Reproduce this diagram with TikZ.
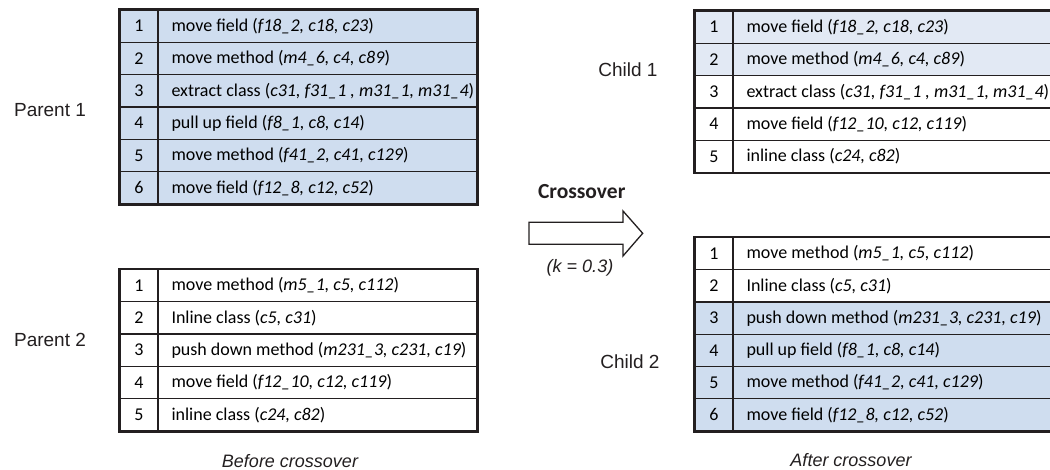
\documentclass[tikz,border=0pt]{standalone}
\usepackage{fontspec}
\usepackage{tikz}
\setmainfont{Carlito}
\newfontfamily\arialfont{Liberation Sans}
\definecolor{cellblue}{RGB}{207,221,239}
\definecolor{paleblue}{RGB}{226,233,244}
\definecolor{linegray}{RGB}{35,31,32}
\newcommand{\rowtext}[1]{\makebox[292pt][l]{#1}}

\begin{document}
\begin{tikzpicture}[x=1pt,y=-1pt,
	numcell/.style={draw=linegray, line width=1.3pt, minimum width=38pt, minimum height=32.3pt, inner sep=0pt, font=\fontsize{18}{21}\selectfont},
	txtcell/.style={numcell, minimum width=319pt, inner xsep=13.5pt},
	blue/.style={fill=cellblue},
	pale/.style={fill=paleblue},
	frame/.style={draw=linegray, line width=2pt},
	sidelabel/.style={font=\arialfont\fontsize{19}{22}\selectfont, text=linegray},
	caption/.style={font=\arialfont\itshape\fontsize{18}{21}\selectfont, text=linegray}]

	\useasboundingbox (0,0) rectangle (1050,470);

	% Parent 1
	\node[sidelabel] (lp1) at (50,110) {Parent 1};
	\node[numcell,blue] (p1n1) at (139,26.2)  {1};
	\node[txtcell,blue] (p1t1) at (317.5,26.2)  {\rowtext{move field (\textit{f18\_2, c18, c23})}};
	\node[numcell,blue] (p1n2) at (139,58.5)  {2};
	\node[txtcell,blue] (p1t2) at (317.5,58.5)  {\rowtext{move method (\textit{m4\_6, c4, c89})}};
	\node[numcell,blue] (p1n3) at (139,90.8)  {3};
	\node[txtcell,blue] (p1t3) at (317.5,90.8)  {\rowtext{extract class (\textit{c31, f31\_1 , m31\_1, m31\_4})}};
	\node[numcell,blue] (p1n4) at (139,123.2)  {4};
	\node[txtcell,blue] (p1t4) at (317.5,123.2)  {\rowtext{pull up field (\textit{f8\_1, c8, c14})}};
	\node[numcell,blue] (p1n5) at (139,155.5)  {5};
	\node[txtcell,blue] (p1t5) at (317.5,155.5)  {\rowtext{move method (\textit{f41\_2, c41, c129})}};
	\node[numcell,blue] (p1n6) at (139,187.8)  {6};
	\node[txtcell,blue] (p1t6) at (317.5,187.8)  {\rowtext{move field (\textit{f12\_8, c12, c52})}};
	\draw[frame] (p1n1.north west) rectangle (p1t6.south east);

	% Parent 2
	\node[sidelabel] (lp2) at (50,340) {Parent 2};
	\node[numcell] (p2n1) at (139,285.5)  {1};
	\node[txtcell] (p2t1) at (317.5,285.5)  {\rowtext{move method (\textit{m5\_1, c5, c112})}};
	\node[numcell] (p2n2) at (139,317.8)  {2};
	\node[txtcell] (p2t2) at (317.5,317.8)  {\rowtext{Inline class (\textit{c5, c31})}};
	\node[numcell] (p2n3) at (139,350.1)  {3};
	\node[txtcell] (p2t3) at (317.5,350.1)  {\rowtext{push down method (\textit{m231\_3, c231, c19})}};
	\node[numcell] (p2n4) at (139,382.5)  {4};
	\node[txtcell] (p2t4) at (317.5,382.5)  {\rowtext{move field (\textit{f12\_10, c12, c119})}};
	\node[numcell] (p2n5) at (139,414.8)  {5};
	\node[txtcell] (p2t5) at (317.5,414.8)  {\rowtext{inline class (\textit{c24, c82})}};
	\draw[frame] (p2n1.north west) rectangle (p2t5.south east);
	\node[caption] (before) at (290,461.5) {Before crossover};

	% Crossover arrow
	\node[font=\bfseries\fontsize{21.5}{24}\selectfont, text=linegray] (xo) at (581.7,191.5) {Crossover};
	\draw[draw=linegray, line width=1.3pt, fill=white] (529,222.3) -- (623,222.3) -- (623,211) -- (642.7,233.3) -- (623,256) -- (623,244.3) -- (529,244.3) -- cycle;
	\node[caption] (kval) at (580,268.3) {(k = 0.3)};

	% Child 1
	\node[sidelabel] (lc1) at (628,70) {Child 1};
	\node[numcell,pale] (c1n1) at (714,27.2)  {1};
	\node[txtcell,pale] (c1t1) at (892.5,27.2)  {\rowtext{move field (\textit{f18\_2, c18, c23})}};
	\node[numcell,pale] (c1n2) at (714,59.5)  {2};
	\node[txtcell,pale] (c1t2) at (892.5,59.5)  {\rowtext{move method (\textit{m4\_6, c4, c89})}};
	\node[numcell] (c1n3) at (714,91.8)  {3};
	\node[txtcell] (c1t3) at (892.5,91.8)  {\rowtext{extract class (\textit{c31, f31\_1 , m31\_1, m31\_4})}};
	\node[numcell] (c1n4) at (714,124.2)  {4};
	\node[txtcell] (c1t4) at (892.5,124.2)  {\rowtext{move field (\textit{f12\_10, c12, c119})}};
	\node[numcell] (c1n5) at (714,156.5)  {5};
	\node[txtcell] (c1t5) at (892.5,156.5)  {\rowtext{inline class (\textit{c24, c82})}};
	\draw[frame] (c1n1.north west) rectangle (c1t5.south east);

	% Child 2
	\node[sidelabel] (lc2) at (630,362) {Child 2};
	\node[numcell] (c2n1) at (714,253.6)  {1};
	\node[txtcell] (c2t1) at (892.5,253.6)  {\rowtext{move method (\textit{m5\_1, c5, c112})}};
	\node[numcell] (c2n2) at (714,285.9)  {2};
	\node[txtcell] (c2t2) at (892.5,285.9)  {\rowtext{Inline class (\textit{c5, c31})}};
	\node[numcell,blue] (c2n3) at (714,318.1)  {3};
	\node[txtcell,blue] (c2t3) at (892.5,318.1)  {\rowtext{push down method (\textit{m231\_3, c231, c19})}};
	\node[numcell,blue] (c2n4) at (714,350.4)  {4};
	\node[txtcell,blue] (c2t4) at (892.5,350.4)  {\rowtext{pull up field (\textit{f8\_1, c8, c14})}};
	\node[numcell,blue] (c2n5) at (714,382.6)  {5};
	\node[txtcell,blue] (c2t5) at (892.5,382.6)  {\rowtext{move method (\textit{f41\_2, c41, c129})}};
	\node[numcell,blue] (c2n6) at (714,414.9)  {6};
	\node[txtcell,blue] (c2t6) at (892.5,414.9)  {\rowtext{move field (\textit{f12\_8, c12, c52})}};
	\draw[frame] (c2n1.north west) rectangle (c2t6.south east);
	\node[caption] (after) at (851,460) {After crossover};

\end{tikzpicture}
\end{document}
